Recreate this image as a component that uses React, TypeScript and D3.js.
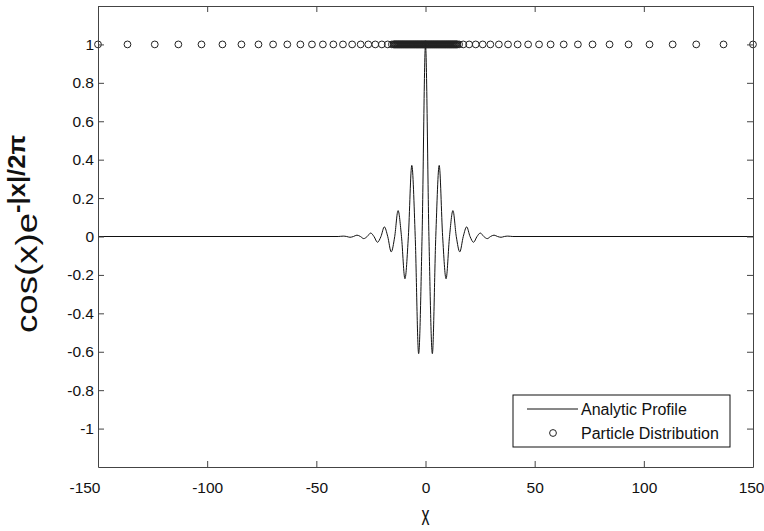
import React, { useRef, useEffect } from "react";
import * as d3 from "d3";

// analytic profile, right half (mirrored for x < 0)
const profileX = [0, 1.57, 3.14, 4.71, 6.28, 7.85, 9.42, 11.0, 12.57, 14.1, 15.7, 17.3, 18.85, 20.4, 22.0, 23.6, 25.1, 26.7, 28.3, 29.8, 31.4, 33.0, 34.6, 36.1, 37.7, 40, 150];
const profileY = [1, 0, -0.61, 0, 0.37, 0, -0.22, 0, 0.135, 0, -0.08, 0, 0.05, 0, -0.03, 0, 0.018, 0, -0.011, 0, 0.007, 0, -0.004, 0, 0.002, 0, 0];

// particle positions (x > 0), all sit at y = 1; packed tight near the centre
const particleX = [150, 136.5, 124, 113.2, 102.6, 93, 84.3, 76.5, 69.8, 63.3, 57.3, 52, 47, 42.2, 37.8, 33.6, 29.7, 26.2, 23, 20, 17.3,
  15.4, 14.6, 14.3, 14.0, 13.7, 13.4, 13.1, 12.8, 12.5, 12.2, 11.9, 11.6, 11.3, 11.0, 10.7, 10.4, 10.1, 9.8, 9.5, 9.2, 8.9, 8.6, 8.3, 8.0,
  7.7, 7.4, 7.1, 6.8, 6.5, 6.2, 5.9, 5.6, 5.3, 5.0, 4.7, 4.4, 4.1, 3.8, 3.5, 3.2, 2.9, 2.6, 2.3, 2.0, 1.7, 1.4, 1.1, 0.8, 0.5, 0.2];
const particleY = 1;

const xTicks = [-150, -100, -50, 0, 50, 100, 150];
const yTicks = [-1, -0.8, -0.6, -0.4, -0.2, 0, 0.2, 0.4, 0.6, 0.8, 1];

const legendLabels = ["Analytic Profile", "Particle Distribution"];

const W = 764, H = 531;
const box = { left: 98, right: 753, top: 6, bottom: 467 };
const font = "'Liberation Sans', Arial, sans-serif";

const App = () => {
  const svgRef = useRef(null);

  useEffect(() => {
    const svg = d3.select(svgRef.current);
    svg.selectAll("*").remove();

    const x = d3.scaleLinear().domain([-150, 150]).range([box.left, box.right]);
    const y = d3.scaleLinear().domain([-1.2, 1.2]).range([box.bottom, box.top]);

    // profile points, left half mirrored
    const pts = [];
    for (let i = profileX.length - 1; i > 0; i--) pts.push([-profileX[i], profileY[i]]);
    profileX.forEach((d, i) => pts.push([d, profileY[i]]));

    const line = d3.line().x(d => x(d[0])).y(d => y(d[1])).curve(d3.curveMonotoneX);
    svg.append("path")
      .attr("d", line(pts))
      .attr("fill", "none")
      .attr("stroke", "#111")
      .attr("stroke-width", 1);

    // particles
    const parts = [...particleX.map(d => -d), 0, ...particleX];
    svg.append("g").selectAll("circle")
      .data(parts)
      .enter()
      .append("circle")
      .attr("cx", d => x(d))
      .attr("cy", y(particleY))
      .attr("r", 3.4)
      .attr("fill", "none")
      .attr("stroke", "#222")
      .attr("stroke-width", 1);

    // axes box + inward ticks (plain hyphen minus like matlab)
    const axisColor = "#444";
    const tick = 6;
    const fmt = d => String(d);
    const bottom = d3.axisBottom(x).tickValues(xTicks).tickSizeInner(-tick).tickSizeOuter(0).tickPadding(15).tickFormat(fmt);
    const top = d3.axisTop(x).tickValues(xTicks).tickSizeInner(-tick).tickSizeOuter(0).tickFormat(() => "");
    const left = d3.axisLeft(y).tickValues(yTicks).tickSizeInner(-tick).tickSizeOuter(0).tickFormat(fmt);
    const right = d3.axisRight(y).tickValues(yTicks).tickSizeInner(-tick).tickSizeOuter(0).tickFormat(() => "");

    const gB = svg.append("g").attr("transform", `translate(0,${box.bottom})`).call(bottom);
    svg.append("g").attr("transform", `translate(0,${box.top})`).call(top);
    const gL = svg.append("g").attr("transform", `translate(${box.left},0)`).call(left);
    svg.append("g").attr("transform", `translate(${box.right},0)`).call(right);

    svg.selectAll(".domain, .tick line").attr("stroke", axisColor);
    svg.selectAll(".tick text")
      .attr("font-family", font)
      .attr("font-size", 15.5)
      .attr("fill", "#111");
    gB.selectAll(".tick text").attr("dy", "0.71em");
    gB.selectAll(".tick text").filter(d => d === 150).attr("text-anchor", "end").attr("x", 11);
    gB.selectAll(".tick text").filter(d => d === -150).attr("text-anchor", "end").attr("x", 2);
    gL.selectAll(".tick text").attr("x", -4);

    // x label
    svg.append("text")
      .attr("transform", `translate(${x(0)},525) scale(0.8,1.35)`)
      .attr("text-anchor", "middle")
      .attr("font-family", font)
      .attr("font-size", 20)
      .attr("fill", "#111")
      .text("x");

    // y label
    const yl = svg.append("text")
      .attr("transform", `translate(37,333) rotate(-90)`)
      .attr("font-family", font)
      .attr("font-size", 30)
      .attr("fill", "#111");
    yl.append("tspan").attr("textLength", 120).attr("lengthAdjust", "spacingAndGlyphs").text("cos(x)e");
    yl.append("tspan")
      .attr("font-size", 23)
      .attr("font-weight", "bold")
      .attr("dy", -12)
      .attr("textLength", 78)
      .attr("lengthAdjust", "spacingAndGlyphs")
      .text("-|x|/2π");

    // legend
    const lg = svg.append("g");
    lg.append("rect")
      .attr("x", 513).attr("y", 395)
      .attr("width", 217).attr("height", 52)
      .attr("fill", "#fff")
      .attr("stroke", "#111")
      .attr("stroke-width", 1);
    lg.append("line")
      .attr("x1", 527).attr("x2", 578)
      .attr("y1", 409).attr("y2", 409)
      .attr("stroke", "#111");
    lg.append("circle")
      .attr("cx", 553).attr("cy", 433)
      .attr("r", 3.4)
      .attr("fill", "none")
      .attr("stroke", "#222");
    lg.selectAll("text.lab")
      .data(legendLabels)
      .enter()
      .append("text")
      .attr("class", "lab")
      .attr("x", 581)
      .attr("y", (_, i) => 409 + i * 24)
      .attr("dy", "0.35em")
      .attr("font-family", font)
      .attr("font-size", 16)
      .attr("fill", "#111")
      .text(d => d);
  }, []);

  return (
    <svg ref={svgRef} width={W} height={H}
      style={{ position: "absolute", left: 0, top: 0, background: "#fff" }}>
    </svg>
  );
};

export default App;
